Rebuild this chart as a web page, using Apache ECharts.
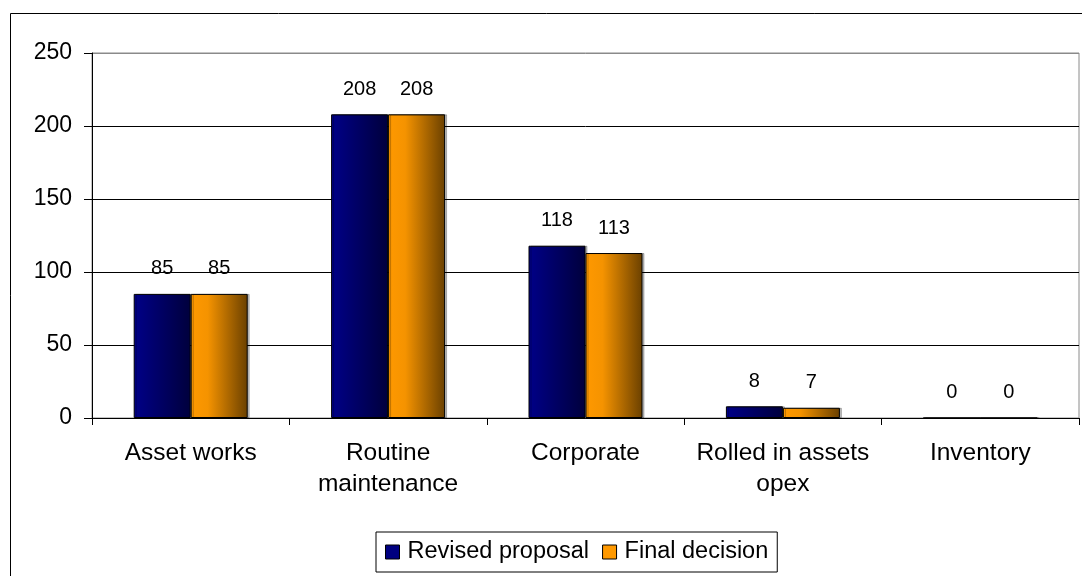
<!DOCTYPE html>
<html>
<head>
<meta charset="utf-8">
<script src="https://cdn.jsdelivr.net/npm/echarts@6/dist/echarts.min.js"></script>
<style>
  html, body { margin: 0; padding: 0; background: #fff; }
  #chart { width: 1082px; height: 576px; }
</style>
</head>
<body>
<div id="chart"></div>
<script>
// Spending categories and the two rounds of figures
const categories = ['Asset works', 'Routine\nmaintenance', 'Corporate', 'Rolled in assets\nopex', 'Inventory'];
const revisedProposal = [85, 208, 118, 8, 0];
const finalDecision = [85, 208, 113, 7, 0];
const yTicks = [0, 50, 100, 150, 200, 250];

const FONT = '"Liberation Sans", Arial, sans-serif';

function grad(stops) {
  return new echarts.graphic.LinearGradient(0, 0, 1, 0, stops);
}

const navyFill = grad([
  { offset: 0, color: '#000088' },
  { offset: 1, color: '#00003c' }
]);
const orangeFill = grad([
  { offset: 0, color: '#ff9900' },
  { offset: 0.3, color: '#f59300' },
  { offset: 1, color: '#6a4000' }
]);

const valueLabel = {
  show: true,
  position: 'top',
  distance: 15,
  color: '#000',
  fontFamily: FONT,
  fontSize: 20
};

const chart = echarts.init(document.getElementById('chart'), null, { renderer: 'canvas' });

chart.setOption({
  animation: false,
  backgroundColor: '#fff',
  textStyle: { fontFamily: FONT },
  graphic: [{
    type: 'rect',
    shape: { x: 10.5, y: 13.5, width: 1200, height: 700 },
    style: { fill: 'none', stroke: '#000', lineWidth: 1 },
    silent: true,
    z: -10
  }],
  grid: {
    left: 92, right: 3, top: 53, bottom: 158,
    show: true,
    borderColor: '#8a8a8a',
    borderWidth: 1,
    containLabel: false
  },
  legend: {
    top: 532,
    left: 376,
    icon: 'rect',
    itemWidth: 14,
    itemHeight: 14,
    itemGap: 13,
    padding: [8, 9, 8, 9],
    borderColor: '#000',
    borderWidth: 1,
    textStyle: { fontFamily: FONT, fontSize: 23.5, color: '#000', padding: [0, 0, 0, 3] },
    data: [
      { name: 'Revised proposal', itemStyle: { color: '#000080', borderColor: '#000', borderWidth: 1 } },
      { name: 'Final decision', itemStyle: { color: '#ff9900', borderColor: '#000', borderWidth: 1 } }
    ]
  },
  xAxis: {
    type: 'category',
    data: categories,
    axisLine: { lineStyle: { color: '#000', width: 1 } },
    axisTick: { show: true, alignWithLabel: false, length: 7, lineStyle: { color: '#000' } },
    axisLabel: {
      color: '#000', fontFamily: FONT, fontSize: 24.5, lineHeight: 31, margin: 20, interval: 0
    }
  },
  yAxis: {
    type: 'value',
    min: 0,
    max: 250,
    interval: 50,
    axisLine: { show: true, lineStyle: { color: '#000', width: 1 } },
    axisTick: { show: true, length: 8, lineStyle: { color: '#000' } },
    axisLabel: {
      color: '#000', fontFamily: FONT, fontSize: 23, margin: 20,
      formatter: v => (yTicks.indexOf(v) >= 0 ? String(v) : '')
    },
    splitLine: {
      show: true,
      lineStyle: { color: ['#000', '#000', '#000', '#000', '#000', '#8a8a8a'], width: 1 }
    }
  },
  series: [
    {
      name: 'Revised proposal',
      type: 'bar',
      data: revisedProposal,
      barWidth: 57,
      barGap: '0%',
      itemStyle: {
        color: navyFill, borderColor: '#000', borderWidth: 1,
        shadowColor: 'rgba(0,0,0,0.25)', shadowOffsetX: 2, shadowOffsetY: 0, shadowBlur: 0
      },
      label: valueLabel
    },
    {
      name: 'Final decision',
      type: 'bar',
      data: finalDecision,
      barWidth: 57,
      barGap: '0%',
      itemStyle: {
        color: orangeFill, borderColor: '#000', borderWidth: 1,
        shadowColor: 'rgba(0,0,0,0.25)', shadowOffsetX: 2, shadowOffsetY: 0, shadowBlur: 0
      },
      label: valueLabel
    }
  ]
});
</script>
</body>
</html>
